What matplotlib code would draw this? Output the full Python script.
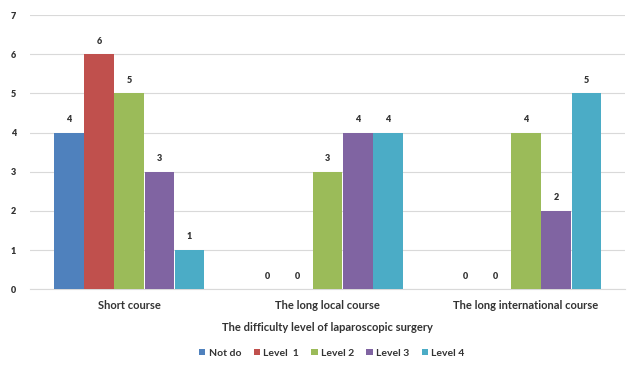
import numpy as np
import matplotlib.pyplot as plt

plt.rcParams['font.family'] = ['Lato', 'DejaVu Sans']

categories = ['Short course', 'The long local course', 'The long international course']
series_names = ['Not do', 'Level  1', 'Level 2', 'Level 3', 'Level 4']
not_do = [4, 0, 0]
level1 = [6, 0, 0]
level2 = [5, 3, 4]
level3 = [3, 4, 2]
level4 = [1, 4, 5]
colors = ['#4F81BD', '#C0504D', '#9BBB59', '#8064A2', '#4BACC6']

data = [not_do, level1, level2, level3, level4]

fig = plt.figure(figsize=(6.38, 3.67), dpi=100)
ax = fig.add_axes([0.047, 0.212, 0.933, 0.747])

x = np.arange(len(categories))
width = 0.152
for i, (vals, name, c) in enumerate(zip(data, series_names, colors)):
    pos = x + (i - 2) * width
    bars = ax.bar(pos, vals, width * 0.98, color=c, label=name, zorder=3)
    for b, v in zip(bars, vals):
        ax.text(b.get_x() + b.get_width() / 2, v + 0.22, str(v), ha='center', va='bottom',
                fontsize=6.5, fontweight='heavy', color='#333333')

ax.set_xlim(-0.5, 2.5)
ax.set_ylim(0, 7)
ax.set_yticks(range(8))
ax.grid(axis='y', color='#d9d9d9', linewidth=0.8, zorder=0)
for s in ['top', 'right', 'left']:
    ax.spines[s].set_visible(False)
ax.spines['bottom'].set_color('#d9d9d9')
ax.tick_params(axis='both', length=0)
ax.tick_params(axis='y', labelsize=6.5, pad=10)
for t in ax.get_yticklabels():
    t.set_fontweight('heavy')
    t.set_color('#333333')
ax.set_xticks(x)
ax.set_xticklabels(categories, fontsize=8, fontweight='bold', color='#333333')
ax.tick_params(axis='x', pad=8)
ax.set_xlabel('The difficulty level of laparoscopic surgery', fontsize=8,
              fontweight='bold', color='#333333', labelpad=8)

leg = fig.legend(loc='lower center', bbox_to_anchor=(0.52, 0.0), ncol=5, frameon=False,
                 handlelength=0.6, handleheight=0.6, handletextpad=0.3,
                 columnspacing=1.2, prop={'weight': 'bold', 'size': 7.5})
for t in leg.get_texts():
    t.set_color('#333333')

fig.savefig('out.png', dpi=100)
